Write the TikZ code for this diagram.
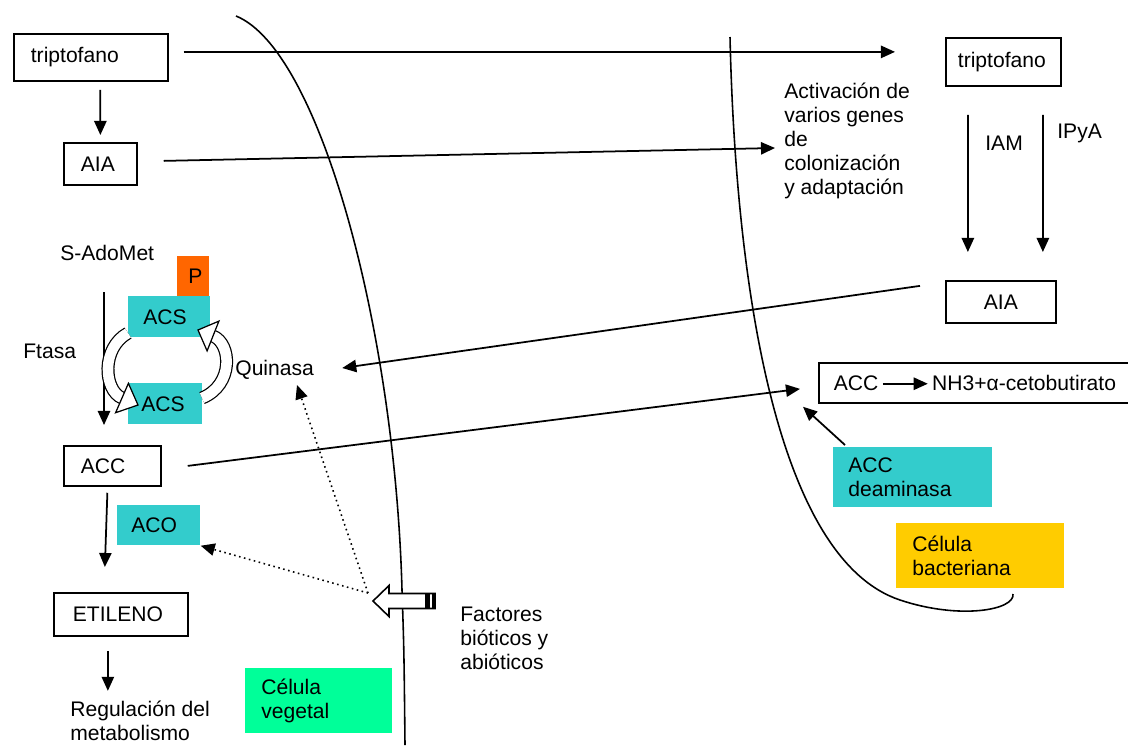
\documentclass[tikz,border=0pt]{standalone}
\usepackage{fontspec}
\setmainfont{Liberation Sans}
\usetikzlibrary{arrows.meta}
\definecolor{turquesa}{RGB}{51,204,204}
\definecolor{naranja}{RGB}{255,102,0}
\definecolor{amarillo}{RGB}{255,204,0}
\definecolor{verde}{RGB}{0,255,153}
\tikzset{
  caja/.style={draw, line width=1pt, anchor=north west, align=left, inner ysep=0pt},
  rell/.style={anchor=north west, align=left, inner ysep=0pt},
  txt/.style={anchor=west, align=left, inner sep=0pt},
  flecha/.style={line width=1pt, -{Triangle[length=8pt,width=7pt]}},
  punteada/.style={line width=0.9pt, dotted, -{Triangle[length=8pt,width=7pt]}},
  hueca/.style={double=white, double distance=6pt, line width=0.7pt},
}
\begin{document}
\begin{tikzpicture}[x=0.02cm, y=-0.02cm, font=\fontsize{12}{13.6}\selectfont]
\useasboundingbox (0,0) rectangle (1128,745);

% membranas
\draw[line width=0.9pt] (236,16) .. controls (320,50) and (395,330) .. (402,590)
  .. controls (404,650) .. (405,745);
\draw[line width=0.9pt] (730,37) .. controls (736,300) and (780,560) .. (900,600)
  .. controls (960,620) and (1015,610) .. (1013,594);

% celula vegetal
\node[caja, inner xsep=0.34cm, text width=2.4cm, minimum height=0.94cm] (trip1) at (13,33) {triptofano};
\node[caja, inner xsep=0.34cm, text width=0.78cm, minimum height=0.84cm] (aia1) at (63,142) {AIA};
\node[txt] (sadomet) at (60,253) {S-AdoMet};
\node[rell, fill=naranja, inner xsep=0.14cm, text width=0.36cm, align=right, minimum height=0.8cm] (p) at (177,256) {P};
\node[rell, fill=turquesa, inner xsep=0.3cm, text width=1.04cm, minimum height=0.82cm] (acs1) at (128,296) {ACS};
\node[rell, fill=turquesa, inner xsep=0.26cm, text width=0.96cm, minimum height=0.82cm] (acs2) at (128,383) {ACS};
\node[txt] (ftasa) at (23,351) {Ftasa};
\node[txt] (quinasa) at (235,370) {Quinasa};
\node[caja, inner xsep=0.34cm, text width=1.26cm, minimum height=0.8cm] (acc1) at (63,445) {ACC};
\node[rell, fill=turquesa, inner xsep=0.28cm, text width=1.1cm, minimum height=0.8cm] (aco) at (117,505) {ACO};
\node[caja, inner xsep=0.38cm, text width=1.92cm, minimum height=0.86cm] (etileno) at (53,592) {ETILENO};
\node[txt] (regul) at (70,721) {Regulación del\\metabolismo};
\node[rell, fill=verde, inner xsep=0.32cm, text width=2.3cm, minimum height=1.3cm] (veg) at (245,668) {Célula\\vegetal};
\node[txt] (fact) at (460,638) {Factores\\bióticos y\\abióticos};

% celula bacteriana
\node[caja, inner xsep=0.24cm, text width=1.82cm, minimum height=0.96cm] (trip2) at (945,37) {triptofano};
\node[txt] (act) at (784,141) {Activación de\\varios genes\\de\\colonización\\y adaptación};
\node[txt] (iam) at (985,143) {IAM};
\node[txt] (ipya) at (1057,133) {IPyA};
\node[caja, inner xsep=0.3cm, text width=1.6cm, minimum height=0.84cm, align=center] (aia2) at (945,280) {AIA};
\node[caja, inner xsep=0.3cm, minimum width=6.18cm, minimum height=0.8cm, align=center] (acc2) at (818,362)
  {ACC\,\tikz[baseline=-0.6ex, x=1cm, y=1cm]\draw[line width=1pt, -{Triangle[length=8pt,width=7pt]}] (0,0) -- (0.9,0);\,NH3+α-cetobutirato};
\node[rell, fill=turquesa, inner xsep=0.3cm, text width=2.58cm, minimum height=1.2cm] (deam) at (833,447) {ACC\\deaminasa};
\node[rell, fill=amarillo, inner xsep=0.32cm, text width=2.72cm, minimum height=1.3cm] (bact) at (896,523) {Célula\\bacteriana};

% flechas
\draw[flecha] ([shift={(15,-5.5)}]trip1.east) -- ([shift={(-50,-10)}]trip2.west);
\draw[flecha] ([shift={(9.5,8)}]trip1.south) -- ([shift={(0,-7)}]aia1.north);
\draw[flecha] ([shift={(26,-3)}]aia1.east) -- ([shift={(-9,7)}]act.west);
\draw[flecha] ([shift={(-35.5,28)}]trip2.south) -- ([shift={(-33,-28)}]aia2.north);
\draw[flecha] ([shift={(39.5,28)}]trip2.south) -- ([shift={(42,-28)}]aia2.north);
\draw[flecha] ([shift={(-25,-16)}]aia2.west) -- ([shift={(28,-2)}]quinasa.east);
\draw[flecha] ([shift={(26,0)}]acc1.east) -- ([shift={(-18,6)}]acc2.west);
\draw[flecha] ([shift={(12,-2)}]deam.north west) -- ([shift={(-15,3)}]acc2.south west);
\draw[flecha] ([shift={(44,39)}]sadomet.west) -- ([shift={(41,-20)}]acc1.north west);
\draw[flecha] ([shift={(-5,6)}]acc1.south) -- ([shift={(-16,-25)}]etileno.north);
\draw[flecha] ([shift={(-13,14)}]etileno.south) -- ([shift={(-13,-10)}]etileno.south |- regul.north);

% ciclo ACS
\draw[hueca] (128,333) .. controls (101,348) and (103.6,390) .. (122,398);
\filldraw[fill=white, line width=0.7pt] (115.6,412.7) -- (138,405) -- (128.4,383.3) -- cycle;
\draw[hueca] (202,398) .. controls (234,385) and (231.6,343.4) .. (213,336);
\filldraw[fill=white, line width=0.7pt] (218.9,321.1) -- (198,330) -- (207.1,350.9) -- cycle;

% factores
\coordinate (fa) at (373,601);
\filldraw[fill=white, line width=0.9pt] (fa) -- ++(16,-15.5) -- ++(0,8) -- ++(46,0) -- ++(0,15)
  -- ++(-46,0) -- ++(0,8) -- cycle;
\fill ([shift={(52,-7.5)}]fa) rectangle ([shift={(57,7.5)}]fa);
\fill ([shift={(59,-7.5)}]fa) rectangle ([shift={(62,7.5)}]fa);
\draw[punteada] ([shift={(-5,-8)}]fa) -- (aco.south east);
\draw[punteada] ([shift={(-5,-8)}]fa) -- ([shift={(62,15)}]quinasa.west);
\end{tikzpicture}
\end{document}
